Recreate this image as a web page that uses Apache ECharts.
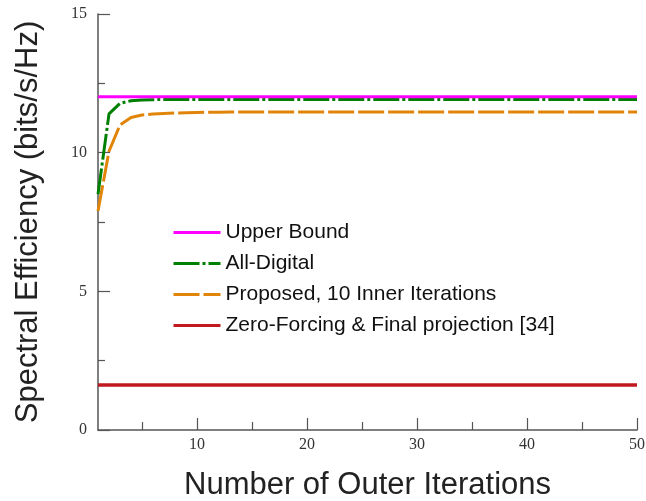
<!DOCTYPE html>
<html>
<head>
<meta charset="utf-8">
<script src="https://cdn.jsdelivr.net/npm/echarts@6/dist/echarts.min.js"></script>
<style>html,body{margin:0;padding:0;background:#fff;overflow:hidden;}#c{width:646px;height:501px;}</style>
</head>
<body>
<div id="c"></div>
<script>
var iterations = [1,2,3,4,5,6,7,8,9,10,11,12,13,14,15,16,17,18,19,20,21,22,23,24,25,26,27,28,29,30,31,32,33,34,35,36,37,38,39,40,41,42,43,44,45,46,47,48,49,50];
var upperBound = [12.02,12.02,12.02,12.02,12.02,12.02,12.02,12.02,12.02,12.02,12.02,12.02,12.02,12.02,12.02,12.02,12.02,12.02,12.02,12.02,12.02,12.02,12.02,12.02,12.02,12.02,12.02,12.02,12.02,12.02,12.02,12.02,12.02,12.02,12.02,12.02,12.02,12.02,12.02,12.02,12.02,12.02,12.02,12.02,12.02,12.02,12.02,12.02,12.02,12.02];
var allDigital = [8.5,11.4,11.78,11.87,11.9,11.91,11.92,11.92,11.92,11.92,11.92,11.92,11.92,11.92,11.92,11.92,11.92,11.92,11.92,11.92,11.92,11.92,11.92,11.92,11.92,11.92,11.92,11.92,11.92,11.92,11.92,11.92,11.92,11.92,11.92,11.92,11.92,11.92,11.92,11.92,11.92,11.92,11.92,11.92,11.92,11.92,11.92,11.92,11.92,11.92];
var proposed = [7.9,10.05,11.0,11.27,11.36,11.39,11.41,11.43,11.44,11.45,11.46,11.46,11.47,11.47,11.47,11.47,11.47,11.47,11.47,11.47,11.47,11.47,11.47,11.47,11.47,11.47,11.47,11.47,11.47,11.47,11.47,11.47,11.47,11.47,11.47,11.47,11.47,11.47,11.47,11.47,11.47,11.47,11.47,11.47,11.47,11.47,11.47,11.47,11.47,11.47];
var zeroForcing = [1.62,1.62,1.62,1.62,1.62,1.62,1.62,1.62,1.62,1.62,1.62,1.62,1.62,1.62,1.62,1.62,1.62,1.62,1.62,1.62,1.62,1.62,1.62,1.62,1.62,1.62,1.62,1.62,1.62,1.62,1.62,1.62,1.62,1.62,1.62,1.62,1.62,1.62,1.62,1.62,1.62,1.62,1.62,1.62,1.62,1.62,1.62,1.62,1.62,1.62];
var xMajorTicks = [10,20,30,40,50];
var xMinorTicks = [5,15,25,35,45];
var yMajorTicks = [0,5,10,15];
var yMinorTicks = [2.5,7.5,12.5];
var seriesNames = ['Upper Bound','All-Digital','Proposed, 10 Inner Iterations','Zero-Forcing & Final projection [34]'];

function pairs(vals){ return iterations.map(function(x,i){ return [x, vals[i]]; }); }

var chart = echarts.init(document.getElementById('c'), null, {renderer:'canvas', width:646, height:501});
var axisColor = '#555';
var labelFont = {fontFamily:'Liberation Serif', fontSize:16, color:'#333'};
chart.setOption({
  animation:false,
  backgroundColor:'#fff',
  grid:{left:98, top:14, width:539, height:416, containLabel:false, outerBoundsMode:'none'},
  legend:{
    orient:'vertical', left:167, top:217, itemWidth:47, itemHeight:14, itemGap:10,
    itemStyle:{opacity:0},
    lineStyle:{width:3},
    textStyle:{fontFamily:'Liberation Sans', fontSize:21, color:'#111'},
    data:seriesNames
  },
  xAxis:[{
    type:'value', min:1, max:50,
    name:'Number of Outer Iterations', nameLocation:'middle', nameGap:40,
    nameTextStyle:{fontFamily:'Liberation Sans', fontSize:31, color:'#222'},
    axisLine:{show:true, lineStyle:{color:axisColor, width:1.5}},
    axisTick:{show:true, inside:true, length:12, customValues:xMajorTicks, lineStyle:{color:axisColor, width:1.2}},
    axisLabel:{show:true, margin:7, customValues:xMajorTicks, fontFamily:labelFont.fontFamily, fontSize:labelFont.fontSize, color:labelFont.color},
    splitLine:{show:false}
  },{
    type:'value', min:1, max:50, position:'bottom',
    axisLine:{show:false},
    axisTick:{show:true, inside:true, length:8, customValues:xMinorTicks, lineStyle:{color:axisColor, width:1.2}},
    axisLabel:{show:false},
    splitLine:{show:false}
  }],
  yAxis:[{
    type:'value', min:0, max:15,
    name:'Spectral Efficiency (bits/s/Hz)', nameLocation:'middle', nameGap:54,
    nameTextStyle:{fontFamily:'Liberation Sans', fontSize:31, color:'#222'},
    axisLine:{show:true, lineStyle:{color:axisColor, width:1.5}},
    axisTick:{show:true, inside:true, length:12, customValues:yMajorTicks, lineStyle:{color:axisColor, width:1.2}},
    axisLabel:{show:true, margin:11, customValues:yMajorTicks, fontFamily:labelFont.fontFamily, fontSize:labelFont.fontSize, color:labelFont.color},
    splitLine:{show:false}
  },{
    type:'value', min:0, max:15, position:'left',
    axisLine:{show:false},
    axisTick:{show:true, inside:true, length:7, customValues:yMinorTicks, lineStyle:{color:axisColor, width:1.2}},
    axisLabel:{show:false},
    splitLine:{show:false}
  }],
  series:[
    {name:seriesNames[0], type:'line', data:pairs(upperBound), symbol:'none', z:5,
     itemStyle:{color:'#ff00ff'}, lineStyle:{color:'#ff00ff', width:3}},
    {name:seriesNames[1], type:'line', data:pairs(allDigital), symbol:'none', z:4,
     itemStyle:{color:'#008000'}, lineStyle:{color:'#008000', width:3, type:[26,3,3,3]}},
    {name:seriesNames[2], type:'line', data:pairs(proposed), symbol:'none', z:3,
     itemStyle:{color:'#e0850a'}, lineStyle:{color:'#e0850a', width:3, type:[26,4]}},
    {name:seriesNames[3], type:'line', data:pairs(zeroForcing), symbol:'none', z:2,
     itemStyle:{color:'#c01a20'}, lineStyle:{color:'#c01a20', width:3.5}}
  ]
});
</script>
</body>
</html>
